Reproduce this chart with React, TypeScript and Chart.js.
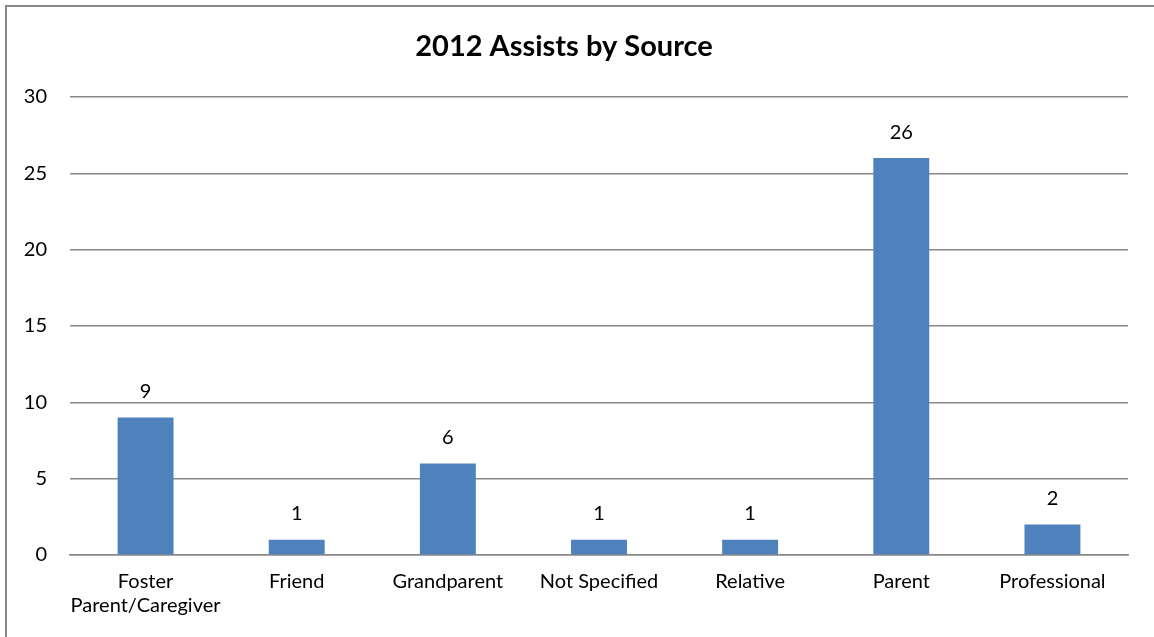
import React, { useEffect, useRef } from "react";
import { Chart, registerables } from "chart.js";

Chart.register(...registerables);

const categories: (string | string[])[] = [
  ["Foster", "Parent/Caregiver"],
  "Friend",
  "Grandparent",
  "Not Specified",
  "Relative",
  "Parent",
  "Professional",
];
const assists: number[] = [9, 1, 6, 1, 1, 26, 2];
const yTicks: number[] = [0, 5, 10, 15, 20, 25, 30];
const chartTitle = "2012 Assists by Source";

const FONT = "Lato, 'Open Sans', sans-serif";

const valueLabels = {
  id: "valueLabels",
  afterDatasetsDraw(chart: any) {
    const ctx = chart.ctx;
    const meta = chart.getDatasetMeta(0);
    ctx.save();
    ctx.font = `20px ${FONT}`;
    ctx.fillStyle = "#000";
    ctx.textAlign = "center";
    ctx.textBaseline = "middle";
    meta.data.forEach((el: any, i: number) => {
      ctx.fillText(String(chart.data.datasets[0].data[i]), el.x, el.y - 26);
    });
    ctx.restore();
  },
};

export default function App() {
  const ref = useRef<HTMLCanvasElement | null>(null);
  useEffect(() => {
    if (!ref.current) return;
    const chart = new Chart(ref.current, {
      type: "bar",
      data: {
        labels: categories,
        datasets: [
          {
            data: assists,
            backgroundColor: "#4F81BD",
            borderWidth: 0,
            barPercentage: 0.74,
            categoryPercentage: 0.5,
          },
        ],
      },
      options: {
        animation: false,
        responsive: false,
        maintainAspectRatio: false,
        layout: { padding: { left: 0, right: 26, top: 0, bottom: 0 } },
        plugins: {
          legend: { display: false },
          tooltip: { enabled: false },
          title: {
            display: true,
            text: chartTitle,
            color: "#000",
            font: { family: FONT, size: 29, weight: "bold", lineHeight: 1.2 },
            padding: { top: 29, bottom: 33.2 },
          },
        },
        scales: {
          x: {
            grid: { display: false, drawTicks: false },
            border: { display: true, color: "#888888", width: 1.5 },
            ticks: {
              color: "#000",
              font: { family: FONT, size: 20, lineHeight: 1.2 },
              padding: 15,
              maxRotation: 0,
              autoSkip: false,
            },
            afterFit(scale: any) {
              scale.height = 82;
            },
          },
          y: {
            min: 0,
            max: 30,
            afterBuildTicks(scale: any) {
              scale.ticks = yTicks.map((v) => ({ value: v }));
            },
            grid: { color: "#888888", lineWidth: 1.5, drawTicks: false },
            border: { display: false },
            ticks: {
              color: "#000",
              font: { family: FONT, size: 20 },
              padding: 23,
            },
            afterFit(scale: any) {
              scale.width = 70;
            },
          },
        },
      },
      plugins: [valueLabels],
    });
    return () => chart.destroy();
  }, []);

  return (
    <div
      style={{
        position: "fixed",
        left: 0,
        top: 0,
        width: 1154,
        height: 637,
        overflow: "hidden",
        background: "#fff",
      }}
    >
      <canvas
        ref={ref}
        width={1154}
        height={637}
        style={{ position: "absolute", left: 0, top: 0, width: 1154, height: 637 }}
      />
      <div
        style={{
          position: "absolute",
          left: 5,
          top: 5,
          width: 1200,
          height: 700,
          border: "2px solid #8a8a8a",
          pointerEvents: "none",
        }}
      />
    </div>
  );
}
